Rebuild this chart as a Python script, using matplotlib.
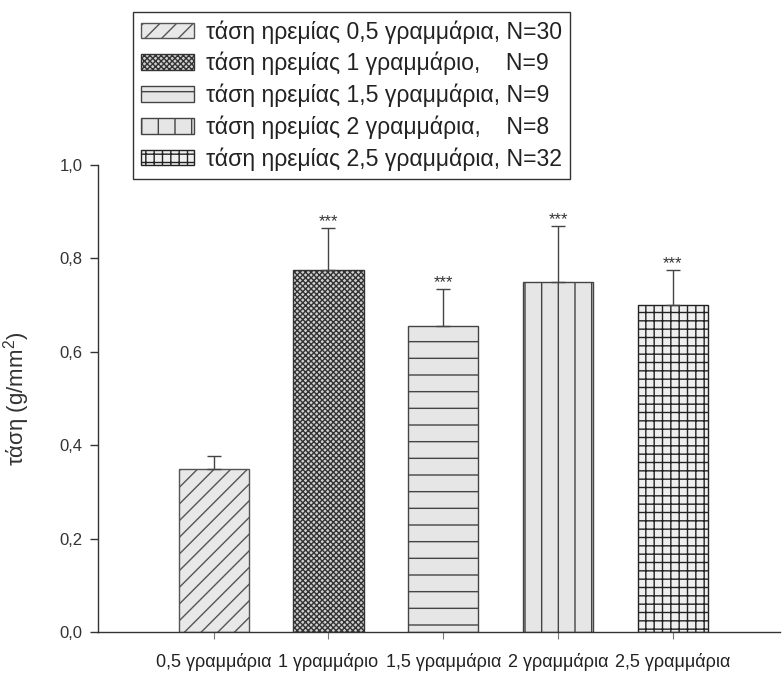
import numpy as np
import matplotlib
matplotlib.use("Agg")
import matplotlib.pyplot as plt
from matplotlib.patches import Patch
from matplotlib.ticker import FuncFormatter

plt.rcParams['font.family'] = ['Liberation Sans', 'DejaVu Sans']
plt.rcParams['mathtext.fontset'] = 'custom'
plt.rcParams['mathtext.rm'] = 'Liberation Sans'
plt.rcParams['mathtext.it'] = 'Liberation Sans'
plt.rcParams['hatch.linewidth'] = 1.0

# data
categories = ['0,5 γραμμάρια', '1 γραμμάριο', '1,5 γραμμάρια', '2 γραμμάρια', '2,5 γραμμάρια']
values = [0.35, 0.775, 0.655, 0.75, 0.70]
errors = [0.027, 0.09, 0.08, 0.12, 0.075]
stars = ['', '***', '***', '***', '***']
legend_labels = ['τάση ηρεμίας 0,5 γραμμάρια, N=30',
                 'τάση ηρεμίας 1 γραμμάριο,    N=9',
                 'τάση ηρεμίας 1,5 γραμμάρια, N=9',
                 'τάση ηρεμίας 2 γραμμάρια,    N=8',
                 'τάση ηρεμίας 2,5 γραμμάρια, N=32']

hatches = ['//', 'xxxxxx', '-', '|', '++']
faces = ['#e8e8e8', '#d0d0d0', '#e6e6e6', '#e6e6e6', '#efefef']
edges = ['#555555', '#333333', '#444444', '#444444', '#222222']

fig = plt.figure(figsize=(7.82, 6.89), dpi=100)
ax = fig.add_axes([0.125, 0.0827, 0.872, 0.678])

x = np.arange(len(values))
bars = ax.bar(x, values, width=0.61, color=faces, edgecolor=edges, linewidth=1.0)
for b, h in zip(bars, hatches):
    b.set_hatch(h)

ax.errorbar(x, values, yerr=[np.zeros(len(errors)), errors], fmt='none',
            ecolor='#444444', elinewidth=1.0, capsize=4.7, capthick=1.0)

for xi, v, e, s in zip(x, values, errors, stars):
    if s:
        ax.annotate(s, (xi, v + e), xytext=(0, -1), textcoords='offset points',
                    ha='center', va='bottom', fontsize=12, color='#333333')

ax.set_xlim(-1.01, 4.93)
ax.set_ylim(0, 1.0)
ax.set_yticks([0, 0.2, 0.4, 0.6, 0.8, 1.0])
ax.yaxis.set_major_formatter(FuncFormatter(lambda v, p: ('%.1f' % v).replace('.', ',')))
ax.set_xticks(x)
ax.set_xticklabels(categories, fontsize=13, color='#222222')
ax.tick_params(axis='y', direction='out', length=6, width=1, pad=5, labelsize=12,
               colors='#333333', labelcolor='#333333')
ax.tick_params(axis='x', direction='out', length=5, width=0.8, pad=10,
               colors='#777777', labelcolor='#222222')

for sp in ['top', 'right']:
    ax.spines[sp].set_visible(False)
for sp in ['left', 'bottom']:
    ax.spines[sp].set_color('#333333')
    ax.spines[sp].set_linewidth(1.0)

ax.set_ylabel('τάση (g/mm$^2$)', fontsize=16, color='#333333')
ax.yaxis.set_label_coords(-0.097, 0.5)

handles = [Patch(facecolor=f, edgecolor=e, hatch=h, linewidth=1.0)
           for f, e, h in zip(faces, edges, hatches)]
leg = fig.legend(handles, legend_labels, loc='upper left',
                 bbox_to_anchor=(0.170, 0.983), borderaxespad=0,
                 fontsize=16.6, handlelength=2.3, handleheight=0.66,
                 handletextpad=0.5, labelspacing=0.36, borderpad=0.36,
                 fancybox=False, framealpha=1, edgecolor='#333333')
leg.get_frame().set_linewidth(1.0)
for t in leg.get_texts():
    t.set_color('#222222')

fig.savefig('out.png', dpi=100)
